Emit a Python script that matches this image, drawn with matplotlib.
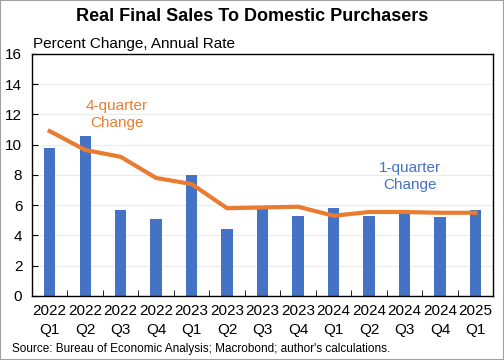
import matplotlib
matplotlib.use("Agg")
import matplotlib.pyplot as plt
from matplotlib.ticker import FixedLocator

plt.rcParams['font.family'] = ['Liberation Sans', 'DejaVu Sans']

# date
years = ['2022', '2022', '2022', '2022', '2023', '2023', '2023', '2023',
         '2024', '2024', '2024', '2024', '2025']
quarters = ['Q1', 'Q2', 'Q3', 'Q4', 'Q1', 'Q2', 'Q3', 'Q4',
            'Q1', 'Q2', 'Q3', 'Q4', 'Q1']
one_quarter = [9.8, 10.6, 5.7, 5.1, 8.0, 4.4, 5.8, 5.3, 5.8, 5.3, 5.7, 5.2, 5.7]
four_quarter = [10.9, 9.65, 9.2, 7.8, 7.4, 5.8, 5.85, 5.9, 5.3, 5.55, 5.55, 5.5, 5.5]

labels = [f"{y}\n{q}" for y, q in zip(years, quarters)]
x = list(range(len(labels)))

fig = plt.figure(figsize=(5.04, 3.6), dpi=100)
ax = fig.add_axes([0.0635, 0.178, 0.915, 0.672])

ax.bar(x, one_quarter, width=0.32, color='#4472C4', zorder=2)
ax.plot(x, four_quarter, color='#E97C30', linewidth=3, zorder=3)

ax.set_xlim(-0.5, len(x) - 0.5)
ax.set_ylim(0, 16)
ax.set_yticks(range(0, 17, 2))
ax.yaxis.grid(True, color='#EBEBEB', linewidth=0.8, zorder=0)
ax.tick_params(axis='y', direction='in', length=4, labelsize=11, pad=7)

ax.set_xticks(x)
ax.set_xticklabels(labels, fontsize=11, linespacing=1.45)
ax.tick_params(axis='x', which='major', length=0, pad=6)
ax.xaxis.set_minor_locator(FixedLocator([i + 0.5 for i in x[:-1]]))
ax.tick_params(axis='x', which='minor', direction='in', length=4)

for s in ax.spines.values():
    s.set_color('black')
    s.set_linewidth(1)

ax.text(1.9, 12.0, '4-quarter\nChange', color='#E97C30', fontsize=11,
        ha='center', va='center', linespacing=1.35)
ax.text(10.15, 7.9, '1-quarter\nChange', color='#4472C4', fontsize=11,
        ha='center', va='center', linespacing=1.35)

fig.text(0.5, 0.953, 'Real Final Sales To Domestic Purchasers', fontsize=13,
         fontweight='bold', ha='center', va='center')
fig.text(0.066, 0.878, 'Percent Change, Annual Rate', fontsize=11,
         ha='left', va='center')
fig.text(0.024, 0.03, "Source: Bureau of Economic Analysis; Macrobond; author's calculations.",
         fontsize=8.5, ha='left', va='center')

fig.patches.append(plt.Rectangle((0, 0), 1, 1, transform=fig.transFigure,
                                 fill=False, edgecolor='#A0A0A0', linewidth=1.5))

fig.savefig('out.png', dpi=100)
